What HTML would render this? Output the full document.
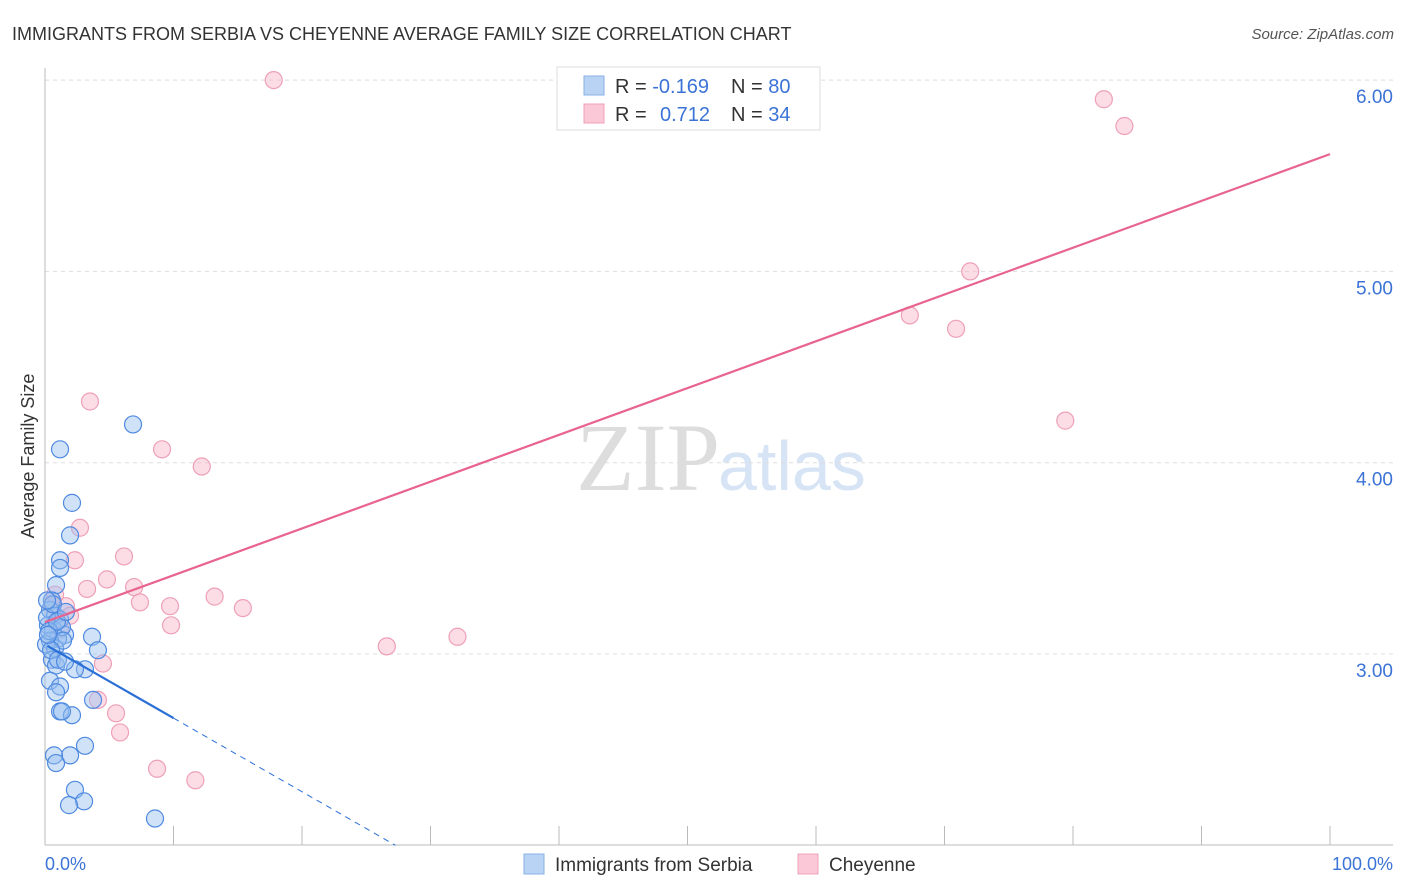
<!DOCTYPE html>
<html><head><meta charset="utf-8"><style>
body{margin:0;background:#fff;font-family:"Liberation Sans",sans-serif;}
svg{display:block}
</style></head><body>
<svg id="c" width="1406" height="892" xmlns="http://www.w3.org/2000/svg">
<text x="12" y="40" font-size="18" fill="#333">IMMIGRANTS FROM SERBIA VS CHEYENNE AVERAGE FAMILY SIZE CORRELATION CHART</text>
<text x="1394" y="39" font-size="15" fill="#555" text-anchor="end" font-style="italic">Source: ZipAtlas.com</text>
<text x="720" y="490" font-size="96" fill="#ddd" text-anchor="end" font-family="Liberation Serif">ZIP</text>
<text x="718" y="490" font-size="70" fill="#d6e4f5">atlas</text>
<g id="grid"></g>
<line x1="45" y1="68" x2="45" y2="845" stroke="#bbb"/>
<line x1="45" y1="845" x2="1393" y2="845" stroke="#bbb"/>
<text transform="translate(34,456) rotate(-90)" font-size="18" fill="#333" text-anchor="middle">Average Family Size</text>
<text x="45" y="870" font-size="18" fill="#3b73d6">0.0%</text>
<text x="1393" y="870" font-size="18" fill="#3b73d6" text-anchor="end">100.0%</text>
<g id="pts"></g>
<g id="lines"></g>
<g>
<rect x="557" y="67" width="263" height="63" fill="#fff" stroke="#ddd"/>
<rect x="584" y="76" width="20" height="19" fill="#b9d3f5" stroke="#8ab0e8"/>
<rect x="584" y="104" width="20" height="19" fill="#fbc8d8" stroke="#f0a0ba"/>
<text x="615" y="93" font-size="20" fill="#333">R = <tspan fill="#3b73d6">-0.169</tspan><tspan x="731">N = </tspan><tspan fill="#3b73d6">80</tspan></text>
<text x="615" y="121" font-size="20" fill="#333">R = <tspan x="660" fill="#3b73d6">0.712</tspan><tspan x="731">N = </tspan><tspan fill="#3b73d6">34</tspan></text>
</g>
<g>
<rect x="524" y="854" width="20" height="20" fill="#b9d3f5" stroke="#8ab0e8"/>
<text x="555" y="871" font-size="19" fill="#333">Immigrants from Serbia</text>
<rect x="798" y="854" width="20" height="20" fill="#fbc8d8" stroke="#f0a0ba"/>
<text x="829" y="871" font-size="19" fill="#333">Cheyenne</text>
</g>
</svg>
<script>
const yTicks=[3,4,5,6];
const yTickLabels=["3.00","4.00","5.00","6.00"];
const xTicks=[10,20,30,40,50,60,70,80,90,100];
const blueX=[1.17,6.85,2.10,1.95,1.17,1.17,0.86,0.54,0.39,0.78,1.17,0.23,0.62,1.56,1.01,0.39,1.32,0.08,0.78,3.66,4.12,0.54,0.86,3.11,2.33,0.39,1.17,0.86,3.74,1.17,2.10,3.11,1.95,0.70,0.86,2.33,3.04,1.87,8.56,0.16,0.31,0.93,1.40,0.62,1.63,0.16,0.47,1.01,1.56,1.32,0.23];
const blueY=[4.07,4.20,3.79,3.62,3.49,3.45,3.36,3.28,3.23,3.20,3.18,3.15,3.13,3.10,3.08,3.07,3.14,3.05,3.03,3.09,3.02,2.97,2.94,2.92,2.92,2.86,2.83,2.80,2.76,2.70,2.68,2.52,2.47,2.47,2.43,2.29,2.23,2.21,2.14,3.19,3.12,3.17,3.07,3.26,3.22,3.28,3.02,2.97,2.96,2.70,3.10];
const pinkX=[17.8,82.4,84.0,72.0,67.3,70.9,79.4,3.50,9.11,12.2,2.72,2.33,6.15,4.82,3.27,6.93,7.39,13.2,9.73,15.4,9.81,32.1,26.6,1.63,1.95,0.78,4.51,4.12,5.53,5.84,8.72,11.7,1.17,0.54];
const pinkY=[6.00,5.90,5.76,5.00,4.77,4.70,4.22,4.32,4.07,3.98,3.66,3.49,3.51,3.39,3.34,3.35,3.27,3.30,3.25,3.24,3.15,3.09,3.04,3.25,3.20,3.31,2.95,2.76,2.69,2.59,2.40,2.34,3.13,3.26];
const blueTrend=[3.05,-0.0385];
const pinkTrend=[3.167,0.02446];
const X=p=>45+p*12.85, Y=v=>654-(v-3)*191.3;
const NS="http://www.w3.org/2000/svg";
function mk(t,a,parent){const e=document.createElementNS(NS,t);for(const k in a)e.setAttribute(k,a[k]);document.getElementById(parent).appendChild(e);return e;}
yTicks.forEach((v,i)=>{
 const l=mk('line',{x1:45,x2:1393,y1:Y(v),y2:Y(v),stroke:'#ddd','stroke-dasharray':'4,4'},'grid');
 
 
 const t=mk('text',{x:1393,y:Y(v)+23,'font-size':19,fill:'#3b73d6','text-anchor':'end'},'grid');
 t.textContent=yTickLabels[i];
 
 
});
xTicks.forEach(p=>{
 const l=mk('line',{x1:X(p),x2:X(p),y1:826,y2:845,stroke:'#bbb'},'grid');
 
 
});
pinkX.forEach((x,i)=>{
 const c=mk('circle',{cx:X(x),cy:Y(pinkY[i]),r:8.5,fill:'rgba(248,180,200,0.45)',stroke:'#eea0b8','stroke-width':1.2},'pts');
 
 
});
blueX.forEach((x,i)=>{
 const c=mk('circle',{cx:X(x),cy:Y(blueY[i]),r:8.5,fill:'rgba(150,190,240,0.45)',stroke:'#4f8ae0','stroke-width':1.2},'pts');
 
 
});
let l=mk('line',{x1:X(0),y1:Y(pinkTrend[0]),x2:X(100),y2:Y(pinkTrend[0]+100*pinkTrend[1]),stroke:'#e8648f','stroke-width':2.2},'lines');


l=mk('line',{x1:X(0.2),y1:Y(blueTrend[0]+0.2*blueTrend[1]),x2:X(10),y2:Y(blueTrend[0]+10*blueTrend[1]),stroke:'#2a6fd6','stroke-width':2.2},'lines');


const xe=(2-blueTrend[0])/blueTrend[1];
l=mk('line',{x1:X(10),y1:Y(blueTrend[0]+10*blueTrend[1]),x2:X(xe),y2:Y(2),stroke:'#2a6fd6','stroke-width':1,'stroke-dasharray':'6,5'},'lines');


</script>
</body></html>
